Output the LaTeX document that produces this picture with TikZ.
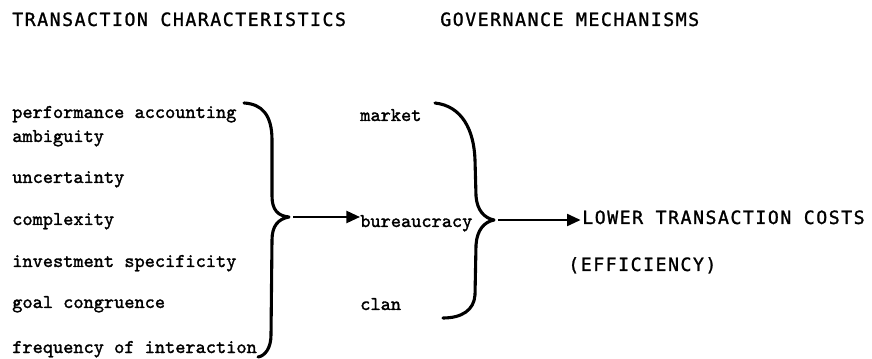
\documentclass[tikz,border=0pt]{standalone}
\usepackage{fontspec}
\newfontfamily\headfont[LetterSpace=8,FakeBold=1.2]{DejaVu Sans Mono}
\newfontfamily\itemfont[FakeBold=1.5]{lmmono10-regular.otf}
\usetikzlibrary{arrows.meta}
\tikzset{
  item/.style={anchor=base west,inner sep=0pt,font=\fontsize{13.8}{16}\selectfont\itemfont},
  head/.style={anchor=base west,inner sep=0pt,font=\fontsize{13}{15}\selectfont\headfont},
  bracket/.style={line width=2.2pt,line cap=round,line join=round},
  arr/.style={line width=1.6pt,-{Triangle[length=3.4mm,width=3mm]}}
}
\begin{document}
\begin{tikzpicture}[x=0.025cm,y=-0.025cm]
\useasboundingbox (0,0) rectangle (872,359);
% headings
\node[head] (th) at (12,26) {TRANSACTION CHARACTERISTICS};
\node[head] (gh) at (440,26) {GOVERNANCE MECHANISMS};
% transaction characteristics
\node[item] (perf) at (12,118) {performance accounting};
\node[item] (amb)  at (12,142) {ambiguity};
\node[item] (unc)  at (12,183) {uncertainty};
\node[item] (cpx)  at (12,225) {complexity};
\node[item] (inv)  at (12,267) {investment specificity};
\node[item] (goal) at (12,308) {goal congruence};
\node[item] (freq) at (12,353) {frequency of interaction};
% governance mechanisms
\node[item] (mkt) at (360,121) {market};
\node[item] (bur) at (360,227) {bureaucracy};
\node[item] (clan) at (360,310) {clan};
% outcome
\node[head] (low) at (582,224) {LOWER TRANSACTION COSTS};
\node[head] (eff) at (568,271) {(EFFICIENCY)};
% braces
\coordinate (tipA) at (289,217);
\draw[bracket] (244,103) .. controls (262,104) and (272,115) .. (272,140)
  -- (272,196) .. controls (272,210) and (278,216) .. (tipA)
  .. controls (278,219) and (272,226) .. (272,240)
  -- (271,335) .. controls (271,348) and (265,356) .. (258,357);
\coordinate (tipB) at (494,220);
\draw[bracket] (435,103) .. controls (462,106) and (474,130) .. (475,160)
  -- (476,196) .. controls (477,210) and (484,218) .. (tipB)
  .. controls (484,222) and (477,230) .. (476,245)
  -- (475,295) .. controls (474,310) and (462,318) .. (443,318);
% arrows
\draw[arr] ([xshift=3pt]tipA) -- (bur.west |- tipA);
\draw[arr] ([xshift=3pt]tipB) -- ([xshift=-1pt]low.west |- tipB);
\end{tikzpicture}
\end{document}
